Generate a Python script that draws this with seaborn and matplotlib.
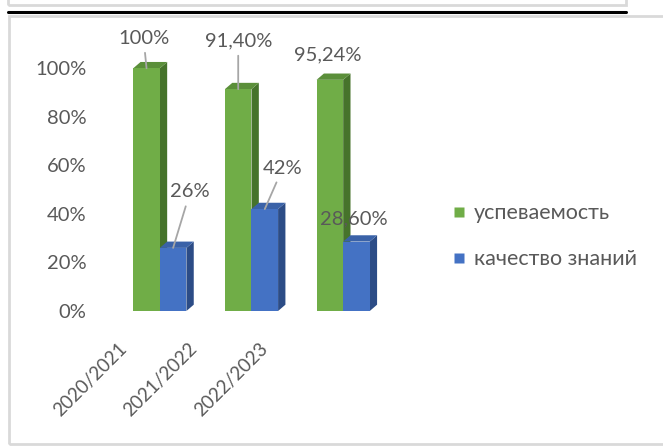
import matplotlib
matplotlib.use("Agg")
import matplotlib.pyplot as plt
import matplotlib.transforms as mtransforms
from matplotlib.patches import Polygon, Rectangle
from matplotlib.lines import Line2D
import seaborn as sns
import pandas as pd

# chart data
years = ["2020/2021", "2021/2022", "2022/2023"]
success = [1.00, 0.914, 0.9524]
quality = [0.26, 0.42, 0.286]
success_labels = ["100%", "91,40%", "95,24%"]
quality_labels = ["26%", "42%", "28,60%"]
series_names = ["успеваемость", "качество знаний"]
y_ticks = [0, 0.2, 0.4, 0.6, 0.8, 1.0]
y_tick_labels = ["0%", "20%", "40%", "60%", "80%", "100%"]

df = pd.DataFrame({
    "year": years * 2,
    "value": success + quality,
    "series": [series_names[0]] * 3 + [series_names[1]] * 3,
})

front = {series_names[0]: "#70AD47", series_names[1]: "#4472C4"}
side = {series_names[0]: "#46732B", series_names[1]: "#2C4C86"}
top = {series_names[0]: "#5B8F3A", series_names[1]: "#3A62A8"}
text_grey = "#595959"
fs = 14.5

sns.set_style("white")
plt.rcParams["font.family"] = ["Lato", "DejaVu Sans"]

fig = plt.figure(figsize=(6.63, 4.46), dpi=100)
ax = fig.add_axes([114 / 663, 1 - 311 / 446, 275 / 663, (311 - 44) / 446])

sns.barplot(data=df, x="year", y="value", hue="series", palette=front,
            width=0.58, saturation=1, ax=ax, legend=False)
ax.set_ylim(0, 1.1)
ax.set_xlim(-0.5, 2.5)

# fake 3D depth on each bar
dx, dy = 0.08, 0.026
for i, cont in enumerate(ax.containers):
    name = series_names[i]
    for bar in cont:
        x0 = bar.get_x()
        w = bar.get_width()
        h = bar.get_height()
        z = 1 + i * 2
        bar.set_zorder(z + 1)
        bar.set_edgecolor("none")
        ax.add_patch(Polygon([(x0 + w, 0), (x0 + w + dx, dy), (x0 + w + dx, h + dy), (x0 + w, h)],
                             closed=True, facecolor=side[name], edgecolor="none", zorder=z))
        ax.add_patch(Polygon([(x0, h), (x0 + dx, h + dy), (x0 + w + dx, h + dy), (x0 + w, h)],
                             closed=True, facecolor=top[name], edgecolor="none", zorder=z))

# data labels (offsets in pixels, leader line flag)
label_offsets = [[(-3, 30, True), (0, 48, True), (-2, 25, False)],
                 [(17, 56, True), (18, 41, True), (-3, 23, False)]]
for i, (cont, labels) in enumerate(zip(ax.containers, [success_labels, quality_labels])):
    for bar, lab, (ox, oy, line) in zip(cont, labels, label_offsets[i]):
        cx = bar.get_x() + bar.get_width() / 2
        kw = {}
        if line:
            kw["arrowprops"] = dict(arrowstyle="-", color="#A6A6A6", lw=1.3,
                                    shrinkA=2, shrinkB=0)
        ax.annotate(lab, xy=(cx, bar.get_height()), xytext=(ox, oy),
                    textcoords="offset pixels", ha="center", va="center",
                    fontsize=fs, color=text_grey, zorder=10, **kw)

ax.set_yticks(y_ticks)
ax.set_yticklabels(y_tick_labels)
ax.set_xlabel("")
ax.set_ylabel("")
ax.tick_params(axis="y", length=0, pad=20, labelsize=fs, labelcolor=text_grey)
ax.tick_params(axis="x", length=0, pad=0, labelsize=13.5, labelcolor=text_grey)
# excel's perspective pulls the category labels left
for i, lab in enumerate(ax.get_xticklabels()):
    lab.set_rotation(45)
    lab.set_ha("right")
    lab.set_va("center")
    lab.set_rotation_mode("anchor")
    shift = mtransforms.ScaledTranslation((-36 - 21 * i) / 100, -35 / 100, fig.dpi_scale_trans)
    lab.set_transform(lab.get_transform() + shift)
sns.despine(ax=ax, left=True, bottom=True)

handles = [Line2D([], [], marker="s", linestyle="none", markersize=7,
                  markerfacecolor=front[n], markeredgecolor="none") for n in series_names]
fig.legend(handles, series_names, loc="upper left", bbox_to_anchor=(429 / 663, 1 - 184 / 446),
           frameon=False, fontsize=15.5, labelcolor=text_grey, labelspacing=1.2,
           handletextpad=0.2, handlelength=1.0)

# surrounding frames from the screenshot
fig.add_artist(Rectangle((8 / 663, 1 - 5 / 446), 618 / 663, 0.05, transform=fig.transFigure,
                         facecolor="none", edgecolor="#D9D9D9", lw=2))
fig.add_artist(Line2D([8 / 663, 626 / 663], [1 - 12 / 446, 1 - 12 / 446],
                      transform=fig.transFigure, color="black", lw=2.2))
fig.add_artist(Rectangle((9 / 663, 1 - 444 / 446), 1.2, (444 - 16) / 446, transform=fig.transFigure,
                         facecolor="none", edgecolor="#D9D9D9", lw=2))

fig.savefig("out.png", dpi=100)
